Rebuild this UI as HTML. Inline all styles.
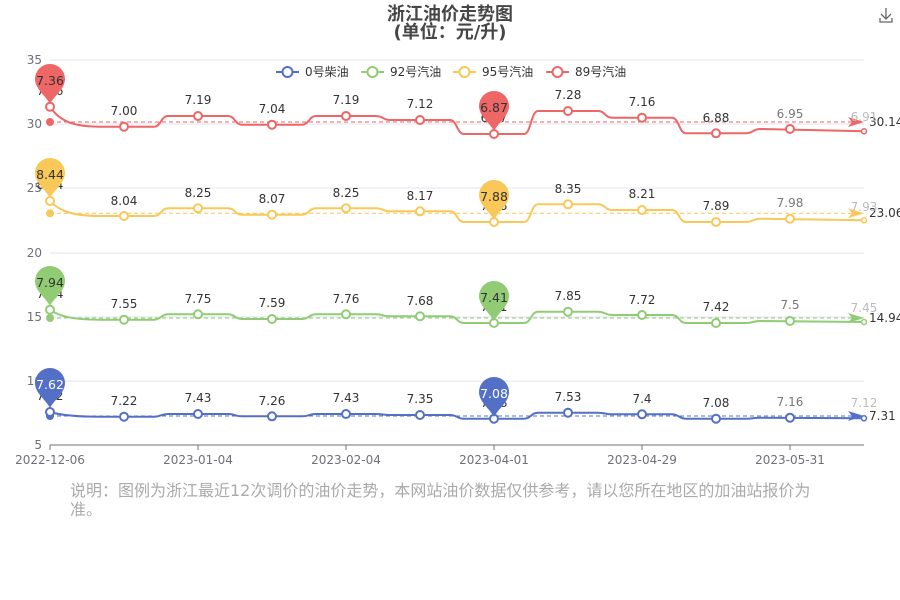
<!DOCTYPE html>
<html><head><meta charset="utf-8"><style>
body{margin:0;background:#fff;width:900px;height:600px;overflow:hidden}
svg{display:block;font-family:"DejaVu Sans","Noto Sans CJK SC",sans-serif}
</style></head><body>
<svg width="900" height="600" viewBox="0 0 900 600">
<defs>
<path id="pin" d="M0,25 C-4,17 -15,10 -15,0 A15,15 0 1 1 15,0 C15,10 4,17 0,25 Z"/>
</defs>
<text x="450" y="20" text-anchor="middle" font-size="18" font-weight="bold" fill="#464646">浙江油价走势图</text>
<text x="450" y="38" text-anchor="middle" font-size="18" font-weight="bold" fill="#464646">(单位：元/升)</text>
<g stroke="#666" stroke-width="1.3" fill="none"><path d="M886,8 v11 M881,14 l5,5 l5,-5 M880,18 v4 h12 v-4"/></g>
<g stroke="#e0e6f1" stroke-width="1">
<line x1="50" y1="60" x2="864" y2="60"/><line x1="50" y1="124" x2="864" y2="124"/><line x1="50" y1="188" x2="864" y2="188"/><line x1="50" y1="253" x2="864" y2="253"/><line x1="50" y1="317" x2="864" y2="317"/><line x1="50" y1="381" x2="864" y2="381"/>
</g>
<line x1="50" y1="445" x2="864" y2="445" stroke="#6e7079"/>
<g stroke="#6e7079"><line x1="50" y1="445" x2="50" y2="450"/><line x1="198" y1="445" x2="198" y2="450"/><line x1="346" y1="445" x2="346" y2="450"/><line x1="494" y1="445" x2="494" y2="450"/><line x1="642" y1="445" x2="642" y2="450"/><line x1="790" y1="445" x2="790" y2="450"/></g>
<g font-size="12" fill="#6e7079" text-anchor="end">
<text x="42" y="64">35</text><text x="42" y="128">30</text><text x="42" y="192">25</text><text x="42" y="257">20</text><text x="42" y="321">15</text><text x="42" y="385">10</text><text x="42" y="449">5</text>
</g>
<g font-size="12" fill="#6e7079" text-anchor="middle">
<text x="50" y="464">2022-12-06</text><text x="198" y="464">2023-01-04</text><text x="346" y="464">2023-02-04</text><text x="494" y="464">2023-04-01</text><text x="642" y="464">2023-04-29</text><text x="790" y="464">2023-05-31</text>
</g>
<g font-size="12" fill="#333" stroke-width="2">
<line x1="276" y1="72" x2="299" y2="72" stroke="#5470c6"/><circle cx="287.5" cy="72" r="5" fill="#fff" stroke="#5470c6"/><text x="305" y="76" stroke="none">0号柴油</text>
<line x1="361" y1="72" x2="384" y2="72" stroke="#91cc75"/><circle cx="372.5" cy="72" r="5" fill="#fff" stroke="#91cc75"/><text x="390" y="76" stroke="none">92号汽油</text>
<line x1="453" y1="72" x2="476" y2="72" stroke="#fac858"/><circle cx="464.5" cy="72" r="5" fill="#fff" stroke="#fac858"/><text x="482" y="76" stroke="none">95号汽油</text>
<line x1="546" y1="72" x2="569" y2="72" stroke="#ee6666"/><circle cx="557.5" cy="72" r="5" fill="#fff" stroke="#ee6666"/><text x="575" y="76" stroke="none">89号汽油</text>
</g>
<g stroke-width="1" stroke-dasharray="4,3">
<line x1="50" y1="122" x2="856" y2="122" stroke="#ee6666"/>
<line x1="50" y1="213.3" x2="856" y2="213.3" stroke="#fac858"/>
<line x1="50" y1="318" x2="856" y2="318" stroke="#91cc75"/>
<line x1="50" y1="416" x2="856" y2="416" stroke="#5470c6"/>
</g>
<path d="M848,117 L864,122 L848,127 L852,122 Z" fill="#ee6666"/>
<path d="M848,208.3 L864,213.3 L848,218.3 L852,213.3 Z" fill="#fac858"/>
<path d="M848,313 L864,318 L848,323 L852,318 Z" fill="#91cc75"/>
<path d="M848,411 L864,416 L848,421 L852,416 Z" fill="#5470c6"/>
<circle cx="50" cy="122" r="4" fill="#ee6666"/><circle cx="50" cy="213.3" r="4" fill="#fac858"/><circle cx="50" cy="318" r="4" fill="#91cc75"/><circle cx="50" cy="416" r="4" fill="#5470c6"/>
<g font-size="12" fill="#333"><text x="869" y="126">30.14</text><text x="869" y="217">23.06</text><text x="869" y="322">14.94</text><text x="869" y="420">7.31</text></g>
<g fill="none" stroke-width="2">
<path stroke="#ee6666" d="M50,106.7 C60,122 75,126.7 100,126.7 L154,126.7 C161,126.7 161,116 168,116 L228,116 C235,116 235,124.7 242,124.7 L302,124.7 C309,124.7 309,116 316,116 L376,116 C383,116 383,120 390,120 L450,120 C457,120 457,134 464,134 L524,134 C531,134 531,111 538,111 L598,111 C605,111 605,117.7 612,117.7 L672,117.7 C679,117.7 679,133.3 686,133.3 L746,133.3 C753,133.3 753,129 760,129 L864,131.3"/>
<path stroke="#fac858" d="M50,201 C60,212 75,216 100,216 L154,216 C161,216 161,208.3 168,208.3 L228,208.3 C235,208.3 235,214.7 242,214.7 L302,214.7 C309,214.7 309,208.3 316,208.3 L376,208.3 C383,208.3 383,211.3 390,211.3 L450,211.3 C457,211.3 457,222 464,222 L524,222 C531,222 531,204.3 538,204.3 L598,204.3 C605,204.3 605,210 612,210 L672,210 C679,210 679,222 686,222 L746,222 C753,222 753,218.7 760,218.7 L864,220.3"/>
<path stroke="#91cc75" d="M50,309.7 C60,317 75,319.7 100,319.7 L154,319.7 C161,319.7 161,314.3 168,314.3 L228,314.3 C235,314.3 235,319 242,319 L302,319 C309,319 309,314.3 316,314.3 L376,314.3 C383,314.3 383,316.3 390,316.3 L450,316.3 C457,316.3 457,323 464,323 L524,323 C531,323 531,311.7 538,311.7 L598,311.7 C605,311.7 605,315 612,315 L672,315 C679,315 679,323 686,323 L746,323 C753,323 753,321 760,321 L864,322"/>
<path stroke="#5470c6" d="M50,412 C60,415 75,416.7 100,416.7 L154,416.7 C161,416.7 161,414 168,414 L228,414 C235,414 235,416.3 242,416.3 L302,416.3 C309,416.3 309,414 316,414 L376,414 C383,414 383,415 390,415 L450,415 C457,415 457,418.7 464,418.7 L524,418.7 C531,418.7 531,412.7 538,412.7 L598,412.7 C605,412.7 605,414.3 612,414.3 L672,414.3 C679,414.3 679,418.7 686,418.7 L746,418.7 C753,418.7 753,417.7 760,417.7 L864,418.3"/>
</g>
<g fill="#fff" stroke-width="2" stroke="#ee6666">
<circle cx="50" cy="106.7" r="4"/><circle cx="124" cy="126.7" r="4"/><circle cx="198" cy="116" r="4"/><circle cx="272" cy="124.7" r="4"/><circle cx="346" cy="116" r="4"/><circle cx="420" cy="120" r="4"/><circle cx="494" cy="134" r="4"/><circle cx="568" cy="111" r="4"/><circle cx="642" cy="117.7" r="4"/><circle cx="716" cy="133.3" r="4"/><circle cx="790" cy="129" r="4"/><circle cx="864" cy="131.3" r="2.5" stroke-width="1.5"/>
</g>
<g fill="#fff" stroke-width="2" stroke="#fac858">
<circle cx="50" cy="201" r="4"/><circle cx="124" cy="216" r="4"/><circle cx="198" cy="208.3" r="4"/><circle cx="272" cy="214.7" r="4"/><circle cx="346" cy="208.3" r="4"/><circle cx="420" cy="211.3" r="4"/><circle cx="494" cy="222" r="4"/><circle cx="568" cy="204.3" r="4"/><circle cx="642" cy="210" r="4"/><circle cx="716" cy="222" r="4"/><circle cx="790" cy="218.7" r="4"/><circle cx="864" cy="220.3" r="2.5" stroke-width="1.5"/>
</g>
<g fill="#fff" stroke-width="2" stroke="#91cc75">
<circle cx="50" cy="309.7" r="4"/><circle cx="124" cy="319.7" r="4"/><circle cx="198" cy="314.3" r="4"/><circle cx="272" cy="319" r="4"/><circle cx="346" cy="314.3" r="4"/><circle cx="420" cy="316.3" r="4"/><circle cx="494" cy="323" r="4"/><circle cx="568" cy="311.7" r="4"/><circle cx="642" cy="315" r="4"/><circle cx="716" cy="323" r="4"/><circle cx="790" cy="321" r="4"/><circle cx="864" cy="322" r="2.5" stroke-width="1.5"/>
</g>
<g fill="#fff" stroke-width="2" stroke="#5470c6">
<circle cx="50" cy="412" r="4"/><circle cx="124" cy="416.7" r="4"/><circle cx="198" cy="414" r="4"/><circle cx="272" cy="416.3" r="4"/><circle cx="346" cy="414" r="4"/><circle cx="420" cy="415" r="4"/><circle cx="494" cy="418.7" r="4"/><circle cx="568" cy="412.7" r="4"/><circle cx="642" cy="414.3" r="4"/><circle cx="716" cy="418.7" r="4"/><circle cx="790" cy="417.7" r="4"/><circle cx="864" cy="418.3" r="2.5" stroke-width="1.5"/>
</g>
<g font-size="12" fill="#333" text-anchor="middle">
<text x="50" y="95">7.36</text><text x="124" y="115">7.00</text><text x="198" y="104">7.19</text><text x="272" y="113">7.04</text><text x="346" y="104">7.19</text><text x="420" y="108">7.12</text><text x="494" y="122">6.87</text><text x="568" y="99">7.28</text><text x="642" y="106">7.16</text><text x="716" y="122">6.88</text><text x="790" y="118" fill="#777">6.95</text><text x="864" y="121" fill="#bbb">6.91</text>
<text x="50" y="189">8.44</text><text x="124" y="205">8.04</text><text x="198" y="197">8.25</text><text x="272" y="203">8.07</text><text x="346" y="197">8.25</text><text x="420" y="200">8.17</text><text x="494" y="210">7.88</text><text x="568" y="193">8.35</text><text x="642" y="198">8.21</text><text x="716" y="210">7.89</text><text x="790" y="207" fill="#777">7.98</text><text x="864" y="211" fill="#bbb">7.93</text>
<text x="50" y="298">7.94</text><text x="124" y="308">7.55</text><text x="198" y="303">7.75</text><text x="272" y="307">7.59</text><text x="346" y="303">7.76</text><text x="420" y="305">7.68</text><text x="494" y="311">7.41</text><text x="568" y="300">7.85</text><text x="642" y="304">7.72</text><text x="716" y="311">7.42</text><text x="790" y="309" fill="#777">7.5</text><text x="864" y="312" fill="#bbb">7.45</text>
<text x="50" y="400">7.42</text><text x="124" y="405">7.22</text><text x="198" y="402">7.43</text><text x="272" y="405">7.26</text><text x="346" y="402">7.43</text><text x="420" y="403">7.35</text><text x="494" y="407">7.08</text><text x="568" y="401">7.53</text><text x="642" y="403">7.4</text><text x="716" y="407">7.08</text><text x="790" y="406" fill="#777">7.16</text><text x="864" y="407" fill="#bbb">7.12</text>
</g>
<use href="#pin" transform="translate(50,79)" fill="#ee6666"/>
<use href="#pin" transform="translate(494,106)" fill="#ee6666"/>
<use href="#pin" transform="translate(50,173)" fill="#fac858"/>
<use href="#pin" transform="translate(494,195)" fill="#fac858"/>
<use href="#pin" transform="translate(50,281)" fill="#91cc75"/>
<use href="#pin" transform="translate(494,296)" fill="#91cc75"/>
<use href="#pin" transform="translate(50,383)" fill="#5470c6"/>
<use href="#pin" transform="translate(494,392)" fill="#5470c6"/>
<g font-size="12.5" text-anchor="middle" fill="#333">
<text x="50" y="85">7.36</text><text x="494" y="112">6.87</text>
<text x="50" y="179">8.44</text><text x="494" y="201">7.88</text>
<text x="50" y="287">7.94</text><text x="494" y="302">7.41</text>
<text x="50" y="389" fill="#fff">7.62</text><text x="494" y="398" fill="#fff">7.08</text>
</g>
<text x="70" y="496" font-size="16" fill="#aaa">说明：图例为浙江最近12次调价的油价走势，本网站油价数据仅供参考，请以您所在地区的加油站报价为</text>
<text x="70" y="515" font-size="16" fill="#aaa">准。</text>
</svg>
</body></html>
